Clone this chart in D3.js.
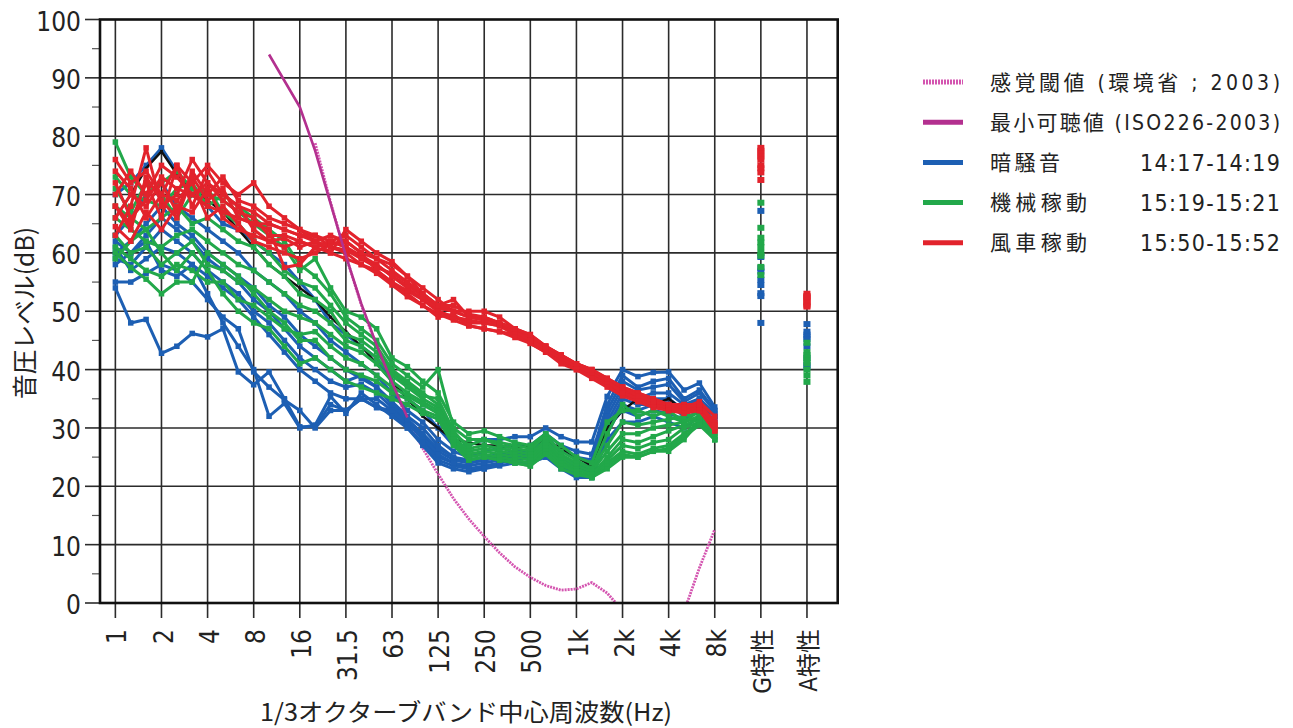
<!DOCTYPE html>
<html>
<head>
<meta charset="utf-8">
<script src="https://cdn.jsdelivr.net/npm/d3@7"></script>
<style>
  html, body { margin: 0; padding: 0; background: #fff; }
  svg { display: block; }
</style>
</head>
<body>
<svg id="chart" width="1293" height="728"></svg>
<script>
// 1/3-octave band centres, 1 Hz ... 8 kHz (40 bands)
const bands = ["1","1.25","1.6","2","2.5","3.15","4","5","6.3","8","10","12.5","16","20","25","31.5","40","50","63","80","100","125","160","200","250","315","400","500","630","800","1k","1.25k","1.6k","2k","2.5k","3.15k","4k","5k","6.3k","8k"];
// octave labels on the axis, then the two weighted overall levels
const tickLabels = ["1","2","4","8","16","31.5","63","125","250","500","1k","2k","4k","8k","G特性","A特性"];
const yTicks = [0,10,20,30,40,50,60,70,80,90,100];

// 暗騒音 14:17-14:19
const backgroundNoise = [
  [54,48,48.6,42.8,44,46.2,45.6,47,39.6,37.4,39.6,35,30.2,30.2,34,33,35,33.5,33,31,28,25,24,23,23,24,24.5,25,25,23.5,22,22,30,35,34,34,35,33,35,32],
  [55,55,56.5,58,57,55,52,49,47,39.6,37,34.8,33,30,33,33,35,33.5,32.5,30,27,24,23,22.5,23,23.5,24,24,25,23,21.5,21.5,28,31,31,32,31,30,32,31],
  [58,60,62,57,56,58,53,48,44,40,32,34.2,30,30.5,35.4,32.5,36,34,32,30,27.5,24.5,23.5,23,23.5,24,25,24.5,26,24,23,22.5,29,34,33,34,34,32,34,32],
  [70,72,75,78,74,70,68,65,64,62,60,58,55,52,48,46,44,42,38,35,33,30,27,27,28,28,28.5,28.5,30,28.5,27.6,27.6,35.4,40,38.8,39.5,39.6,36.5,37.7,33.6],
  [63,66,70,72,68,66,64,62,60,57,55,53,50,48,45,43,41,39,36,33,31,28,26,25,26,26.5,27,27,29,27,26,25.5,34,39,37,38,38.5,35,36.5,33],
  [60,62,65,68,65,63,60,58,56,54,51,49,46,44,42,40,38.5,37,34.5,32,30,27,25,24.5,25,25.5,26,26,28,26,25,24.5,33,38,36.5,37,37.5,34.5,36,33],
  [59,58,61,64,62,60,57,55,53,50,48,45,42,40,38,37,37.5,36,33.5,31,29,26,24.5,24,24.5,25,25.5,25.5,27.5,25,24,23.5,32,37,35,36,36,34,35,32.5],
  [61,57,59,61,60,58,56,54,52,49,46,43,40,38,36,35,35,35,33,30.5,28.5,25.5,24,23.5,24,24.5,25,25,27,24.5,23.5,23,31,36,34.5,35,35,33,34.5,32],
  [62,60,63,66,64,62,59,57,55,52,50,47,44,42,40,38,39,37,34,31.5,29,26.5,25,24,24.5,25,25.5,25.5,27.5,25,24,23.5,30,33,32,33,32.5,31.5,33,31.5]
];
const backgroundG = [67.2,59.3,57.4,56.8,55.4,54.5,53.1,52.6,48];
const backgroundA = [47.8,46.5,46,45.6,45.2,44,42,40.8,40.5];

// 機械稼動 15:19-15:21
const machineRunning = [
  [79,73,70,72,74,71,70,69,67,65,63,61,57,59,54,50,49,47,42,40.5,38,36,31,29,29.5,28.5,27.5,27,29,27,25,24,31,33,33,32,33,31,32,29],
  [73,70,69,68,71,72,68,70,68,66,64,62,58,56,53,49,47,45,41,39,37,40,30,28,28,27.5,27,26.5,28.5,26,24.5,23,29,34,32,33,32,31,33,30],
  [71,67,72,70,66,70,71,67,65,62,60,57,55,54,51,48,46,44,40,38,36,34,29,27,28,27,26.5,26,29,25.5,24,23,27,31,30.5,31,31.5,32,32.5,29.5],
  [68,66,64,66,68,65,66,64,62,61,58,56,53,52,50,46,45,43,39.5,37.5,35.5,35,29.5,26.5,27,26.5,26,25.5,28,25,23.5,22.5,26,29,29,30,30.5,31,32,29],
  [66,64,62,61,63,64,62,60,58,57,55,53,51,50,48,45,44,42,39,37,35,33.5,28.5,26,26.5,26,25.5,25,27.5,24.5,23,22,25,28,27.5,28.5,29.5,30.5,31.5,28.5],
  [63,60,61,58,60,62,58,57,55,54,52,50,49,48,46,44,43,41,38,36,34.5,33,28,25.5,26,25.5,25,24.5,27,24,23,22,24.5,27,26.5,27.5,28,30,31,28],
  [61,59,57,56,58,57,55,55,52,51,49,47,46,46.5,44,42,41,39,37,35.5,34,32.5,28,25,25.5,25,24.5,24,26.5,24,22.5,21.5,24,26,25.5,26.5,27,29,31,28.5],
  [60,57.5,55.5,53,55,55,60,58,56,53,50,48,45,45,42,40,39,38,36,35,33,32,27.5,24.5,25,24.5,24,23.5,26,23.5,22.5,21.5,23.5,25.5,25,26,26,28,31,28],
  [59,62,64,60,57,60,57,53,50,48,47,44,41,42,40,38,37,36,35,34,32.5,31.5,27,24.5,25,24.5,24,23.5,25.5,23,22,21.5,23,25,25,26,26.5,28.5,30.5,28]
];
const machineG = [68.6,64.3,62.6,61.8,61,60,59.5,57.6,56.2];
const machineA = [44.6,43,42.5,42,41.5,41.1,40,39,37.9];

// 風車稼動 15:50-15:52
const turbineRunning = [
  [76,72,74,70,75,72,75,72,70,72,68,66,64,62,63,62,60,59,57,55,53,51,52,49,49,48,47,46,44,42.5,41,40,38.5,37,36,35,34,34,34,31],
  [63,68,78,68,70,76,72,70,68,67,65,64,63,63,62,63,61,59,58,56,54,52,50,50,50,49,47,45.5,44,42,41,40,38,37,36,35,34,33.5,34.5,32],
  [70,74,70,75,73,70,68,67,66,65,64,57.5,58,61,62,61,59.5,58,56,54,52,50,49,48,48,47.5,46.5,45,43,41.5,40.5,39,37.5,36,35,34,33,33,33,30],
  [68,65,72,66,75,68,74,70,68,64,62,61,62,61,60,64,62,60,58.5,56,53,51,50,49,48.5,48,47,45.5,44,42.5,41,39.5,38,36.5,35.5,34.5,33.5,33.5,34,30.5],
  [66,70,68,72,67,74,70,73,69,68,66,65,64,63,61,60,58,57,55,53,51,49.5,48.5,47.5,47,46.5,45.5,44.5,43,41.5,40,39,37.5,36,35,34,33,33,33,29.5],
  [74,71,66,70,69,72,66,68,65,62,61,60,59,60,61.5,62,60,57,55,53.5,52,50,49,48.5,48,47.5,46,45,43.5,42,40.5,39.5,38,36.5,35.5,34.5,33.5,34,34,31],
  [64.5,62,67,64,68,67,71,66,64,63,62,62.5,61,62,60,59,58,56.5,54.5,52.5,51,49,49.5,47.5,47,46.5,46,44.5,43,41,40,38.5,37,35.5,34.5,33.5,33,32.5,33,29.5],
  [72,66,69,73,71,70,72,69,67,66,63,63,62,61,62,61,59,58,56,54.5,52.5,50.5,50,49,48.5,48,46.5,45,43.5,42,40.5,39.5,38,36,35,34,33.5,33.5,33.5,30],
  [68,64,73,69,66,73,69,71,66,65,65,64,63,62,61,60.5,59,57.5,56.5,55,53,51,51,49.5,49,48,47,46,44,42.5,41,40,38.5,37,35.5,34.5,34,33.5,34,30.5]
];
const turbineG = [78,77.5,77,76.5,76,75,74.5,73.8,72.5];
const turbineA = [53,52.6,52.3,52,51.6,51.3,51,50.8,52.5];

// additional reference spectrum (black)
const referenceSpectrum = [66,70,74.5,77.4,73.5,71,69,67,64,61,58,56,54,52,49,46.5,44,41,38,35,32,30,28,27.5,27,27,26.5,27,28,26.5,25,23.5,30,33,35,34,35,33,33,30];

// threshold curves: first band index and levels
const isoStart = 10;   // 10 Hz
const isoThreshold = [94,89.5,85,77.5,68.5,59.5,51.3,44.2,37.8,31.8];
const senseStart = 13; // 20 Hz
const senseThreshold = [78.8,68.7,59.5,51.1,44.0,37.5,31.5,26.5,22.1,17.9,14.4,11.4,8.6,6.2,4.4,3.0,2.2,2.4,3.5,1.7,-1.3,-4.2,-6.0,-5.4,-1.5,6.0,12.6];

const legendNames = ["感覚閾値 (環境省 ; 2003)","最小可聴値 (ISO226-2003)","暗騒音","機械稼動","風車稼動"];
const legendTimes = ["","","14:17-14:19","15:19-15:21","15:50-15:52"];

const COL = {
  blue: "#1d5fb3",
  green: "#22a84a",
  red: "#e2232c",
  black: "#111",
  iso: "#b3308f",
  sense: "#d455b0",
  grid: "#2b2b2b",
  text: "#222"
};

const svg = d3.select("#chart");
const L = 100, R = 837.7, T = 19.5, B = 603;
// band index scale: octave ticks every 3 bands, G at 42, A at 45
const x = d3.scaleLinear().domain([-1, 47]).range([L, R]);
const y = d3.scaleLinear().domain([0, 100]).range([B, T]);
const tickPos = tickLabels.map((d, i) => i * 3);

const narrow = "'Liberation Sans Narrow','DejaVu Sans Condensed','Noto Sans CJK JP',sans-serif";
const cjk = "'Noto Sans CJK JP','Noto Sans',sans-serif";

// grid
const grid = svg.append("g");
grid.selectAll("line.h").data(yTicks.filter(v => v > 0 && v < 100)).join("line")
  .attr("x1", L).attr("x2", R).attr("y1", d => y(d)).attr("y2", d => y(d))
  .attr("stroke", COL.grid).attr("stroke-width", 1.6);
grid.selectAll("line.v").data(tickPos).join("line")
  .attr("x1", d => x(d)).attr("x2", d => x(d)).attr("y1", T).attr("y2", B + 15)
  .attr("stroke", COL.grid).attr("stroke-width", 1.6);

// y ticks (major and minor)
const yAxis = svg.append("g");
yAxis.selectAll("line.maj").data(yTicks).join("line")
  .attr("x1", L - 15).attr("x2", L).attr("y1", d => y(d)).attr("y2", d => y(d))
  .attr("stroke", COL.grid).attr("stroke-width", 1.6);
yAxis.selectAll("line.min").data(d3.range(5, 100, 10)).join("line")
  .attr("x1", L - 8).attr("x2", L).attr("y1", d => y(d)).attr("y2", d => y(d))
  .attr("stroke", "#555").attr("stroke-width", 1.2);
yAxis.selectAll("text").data(yTicks).join("text")
  .attr("x", 81).attr("y", d => y(d) + 11)
  .attr("text-anchor", "end")
  .attr("font-family", narrow).attr("font-size", 26).attr("fill", COL.text)
  .text(d => d);

// x tick labels, rotated
svg.append("g").selectAll("text").data(tickLabels).join("text")
  .attr("transform", (d, i) => `translate(${x(tickPos[i]) + 2},629) rotate(-90)`)
  .attr("text-anchor", "end").attr("dy", "0.35em")
  .attr("font-family", narrow)
  .attr("font-size", (d, i) => i >= 14 ? 24 : 26)
  .attr("fill", COL.text)
  .text(d => d);

// axis titles
svg.append("text")
  .attr("x", 466).attr("y", 721).attr("text-anchor", "middle")
  .attr("font-family", cjk).attr("font-size", 24).attr("fill", COL.text)
  .attr("textLength", 412).attr("lengthAdjust", "spacingAndGlyphs")
  .text("1/3オクターブバンド中心周波数(Hz)");
svg.append("text")
  .attr("transform", "translate(25,313) rotate(-90)")
  .attr("text-anchor", "middle").attr("dy", "0.36em")
  .attr("font-family", cjk).attr("font-size", 25).attr("fill", COL.text)
  .attr("textLength", 172).attr("lengthAdjust", "spacingAndGlyphs")
  .text("音圧レベル(dB)");

// plot clipping
svg.append("clipPath").attr("id", "plotClip").append("rect")
  .attr("x", L).attr("y", T).attr("width", R - L).attr("height", B - T);
const plot = svg.append("g").attr("clip-path", "url(#plotClip)");

const lineGen = d3.line().x((d, i) => x(i)).y(d => y(d));

function drawGroup(lines, color, gVals, aVals, width, mark) {
  const g = plot.append("g");
  lines.forEach(vals => {
    g.append("path").datum(vals).attr("d", lineGen)
      .attr("fill", "none").attr("stroke", color).attr("stroke-width", width)
      .attr("stroke-linejoin", "round");
  });
  lines.forEach(vals => {
    g.selectAll(null).data(vals).join("rect")
      .attr("x", (d, i) => x(i) - mark / 2).attr("y", d => y(d) - mark / 2)
      .attr("width", mark).attr("height", mark).attr("fill", color);
  });
  if (gVals) {
    g.selectAll(null).data(gVals).join("rect")
      .attr("x", x(42) - 3.5).attr("y", d => y(d) - 3)
      .attr("width", 7).attr("height", 6).attr("fill", color);
    g.selectAll(null).data(aVals).join("rect")
      .attr("x", x(45) - 3.5).attr("y", d => y(d) - 3)
      .attr("width", 7).attr("height", 6).attr("fill", color);
  }
}

// threshold curves
const senseLine = d3.line().x((d, i) => x(senseStart + i)).y(d => y(d));
const isoLine = d3.line().x((d, i) => x(isoStart + i)).y(d => y(d));

plot.append("path").datum(senseThreshold).attr("d", senseLine)
  .attr("fill", "none").attr("stroke", COL.sense).attr("stroke-width", 2.8)
  .attr("stroke-dasharray", "2,1");

drawGroup(backgroundNoise, COL.blue, backgroundG, backgroundA, 3, 5.5);
drawGroup([referenceSpectrum], COL.black, null, null, 2.4, 3);
drawGroup(machineRunning, COL.green, machineG, machineA, 3, 5.5);
drawGroup(turbineRunning, COL.red, turbineG, turbineA, 3, 5.5);

plot.append("path").datum(isoThreshold).attr("d", isoLine)
  .attr("fill", "none").attr("stroke", COL.iso).attr("stroke-width", 2.6)
  .attr("stroke-linejoin", "round");

// frame
svg.append("rect").attr("x", L).attr("y", T).attr("width", R - L).attr("height", B - T)
  .attr("fill", "none").attr("stroke", "#111").attr("stroke-width", 2.6);

// legend
const legendColors = [COL.sense, COL.iso, COL.blue, COL.green, COL.red];
const legendWidths = [290, 290, 70, 97, 97];
const leg = svg.append("g");
legendNames.forEach((name, i) => {
  const cy = 82 + i * 40.2;
  leg.append("line").attr("x1", 923).attr("x2", 963).attr("y1", cy).attr("y2", cy)
    .attr("stroke", legendColors[i]).attr("stroke-width", 5)
    .attr("stroke-dasharray", i === 0 ? "2,1" : null);
  leg.append("text").attr("x", 990).attr("y", cy).attr("dy", "0.36em")
    .attr("font-family", narrow).attr("font-size", 21).attr("fill", COL.text)
    .attr("textLength", legendWidths[i]).attr("lengthAdjust", "spacing")
    .text(name);
  if (legendTimes[i]) {
    leg.append("text").attr("x", 1140).attr("y", cy).attr("dy", "0.36em")
      .attr("font-family", narrow).attr("font-size", 23).attr("fill", COL.text)
      .attr("textLength", 140).attr("lengthAdjust", "spacing")
      .text(legendTimes[i]);
  }
});
</script>
</body>
</html>
